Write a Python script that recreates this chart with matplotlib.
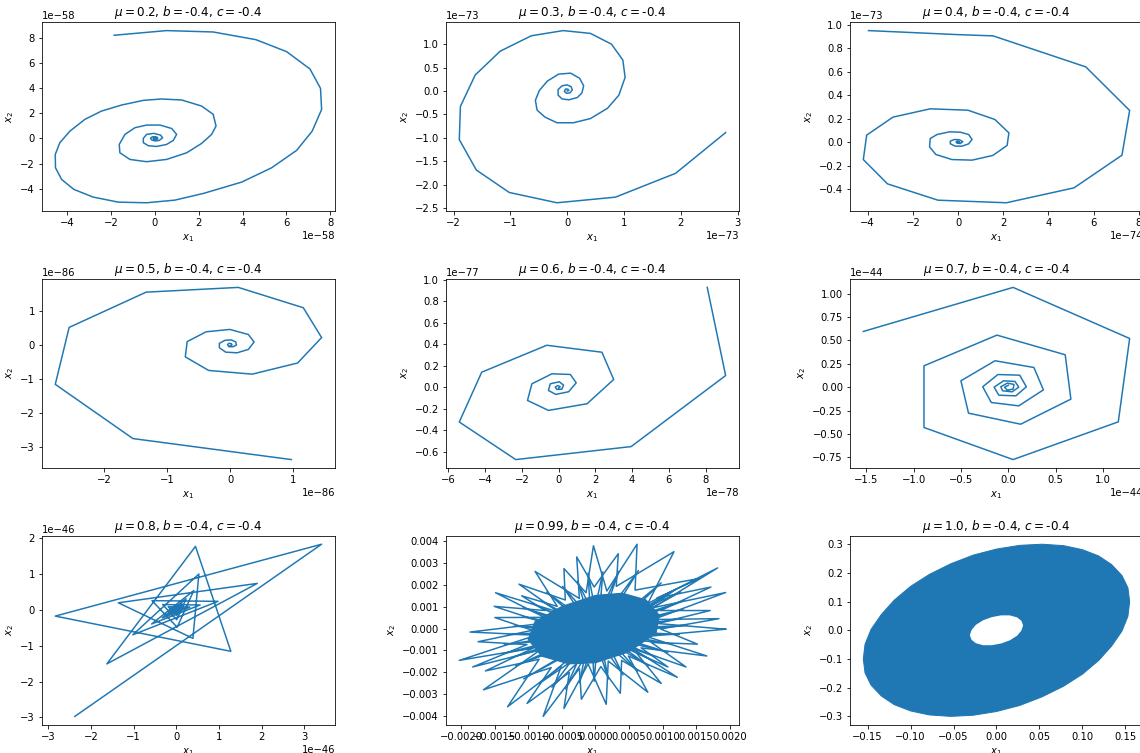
import numpy as np
import matplotlib
matplotlib.use('Agg')
import matplotlib.pyplot as plt


# parameters of every panel
mus = [0.2, 0.3, 0.4, 0.5, 0.6, 0.7, 0.8, 0.99, 1.0]
b = -0.4
c = -0.4

# mu = 0.2  (units 1e-58)
x_02 = [-1.86, 0.53, 2.66, 4.61, 6.01, 7.08, 7.56, 7.61, 7.18, 6.47, 5.33, 3.96, 2.21, 0.91,
        -0.38, -1.67, -2.82, -3.70, -4.26, -4.54, -4.55, -4.34, -3.88, -3.20, -2.44, -1.52,
        -0.53, 0.30, 1.22, 2.13, 2.66, 2.79, 2.59, 2.13, 1.45, 0.53, -0.38, -1.14, -1.60,
        -1.63, -1.37, -0.91, -0.38, 0.23, 0.76, 0.99, 0.84, 0.53, 0.08, -0.30, -0.53, -0.53,
        -0.38, -0.05, 0.26, 0.35, 0.20, 0.00, -0.15, -0.20, -0.12, 0.02, 0.12, 0.13, 0.05,
        -0.05, -0.08, -0.04, 0.03, 0.05, 0.02, -0.02, 0.00]
y_02 = [8.19, 8.56, 8.45, 7.84, 6.89, 5.51, 3.97, 2.30, 0.58, -0.95, -2.33, -3.47, -4.37, -4.90,
        -5.11, -5.06, -4.66, -4.05, -3.26, -2.33, -1.27, -0.34, 0.58, 1.51, 2.17, 2.65, 3.02,
        3.13, 3.05, 2.57, 1.91, 0.98, 0.32, -0.40, -1.14, -1.67, -1.85, -1.67, -1.14, -0.48,
        0.32, 0.85, 1.06, 1.06, 0.79, 0.32, -0.16, -0.48, -0.64, -0.58, -0.34, 0.00, 0.32,
        0.40, 0.26, 0.05, -0.16, -0.20, -0.12, 0.02, 0.12, 0.14, 0.07, -0.03, -0.08, -0.07,
        0.00, 0.05, 0.05, 0.00, -0.03, -0.02, 0.00]

# mu = 0.3  (units 1e-73)
x_03 = [2.79, 1.91, 0.85, -0.18, -1.02, -1.60, -1.90, -1.88, -1.62, -1.18, -0.63, -0.07, 0.41,
        0.78, 0.98, 1.02, 0.91, 0.71, 0.41, 0.11, -0.18, -0.39, -0.53, -0.56, -0.49, -0.35,
        -0.15, 0.06, 0.22, 0.29, 0.26, 0.18, 0.03, -0.09, -0.16, -0.16, -0.09, 0.00, 0.07,
        0.09, 0.05, -0.01, -0.05, -0.03, 0.01, 0.03, 0.00]
y_03 = [-0.89, -1.76, -2.27, -2.39, -2.17, -1.69, -1.04, -0.33, 0.34, 0.85, 1.18, 1.29, 1.23,
        1.00, 0.66, 0.29, -0.09, -0.37, -0.59, -0.68, -0.68, -0.56, -0.41, -0.20, 0.01, 0.21,
        0.36, 0.38, 0.27, 0.11, -0.04, -0.14, -0.19, -0.17, -0.09, 0.03, 0.11, 0.13, 0.09,
        0.02, -0.04, -0.05, -0.01, 0.04, 0.04, 0.01, 0.00]

# mu = 0.4  (x in 1e-74, y in 1e-73)
x_04 = [-3.96, -0.04, 1.55, 5.65, 7.59, 7.25, 5.13, 2.14, -0.89, -3.12, -4.19, -4.04, -2.88,
        -1.23, 0.44, 1.63, 2.25, 2.17, 1.54, 0.62, -0.27, -0.98, -1.26, -1.23, -0.93, -0.38,
        0.10, 0.47, 0.62, 0.47, 0.18, -0.12, -0.34, -0.34, -0.16, 0.07, 0.21, 0.10, -0.04,
        -0.09, 0.00, 0.07, 0.00]
y_04 = [0.950, 0.916, 0.905, 0.641, 0.270, -0.111, -0.389, -0.516, -0.494, -0.355, -0.148,
        0.060, 0.213, 0.284, 0.272, 0.193, 0.079, -0.028, -0.113, -0.153, -0.148, -0.105,
        -0.040, 0.031, 0.065, 0.088, 0.085, 0.065, 0.023, -0.014, -0.034, -0.034, -0.014,
        0.009, 0.023, 0.020, 0.003, -0.011, -0.009, 0.003, 0.009, 0.000, 0.000]

# mu = 0.5  (units 1e-86)
x_05 = [0.97, -1.54, -2.77, -2.55, -1.33, 0.13, 1.16, 1.45, 1.07, 0.35, -0.34, -0.71, -0.68,
        -0.38, -0.005, 0.29, 0.38, 0.29, 0.11, -0.07, -0.17, -0.17, -0.08, 0.02, 0.09, 0.10,
        0.05, -0.02, -0.04, -0.02, 0.02, 0.03, 0.00]
y_05 = [-3.38, -2.76, -1.16, 0.52, 1.56, 1.70, 1.10, 0.22, -0.53, -0.86, -0.75, -0.35, 0.10,
        0.39, 0.46, 0.31, 0.09, -0.13, -0.23, -0.21, -0.08, 0.05, 0.14, 0.15, 0.09, 0.00,
        -0.05, -0.05, 0.01, 0.05, 0.04, 0.00, -0.02]

# mu = 0.6  (x in 1e-78, y in 1e-77)
x_06 = [8.09, 9.09, 3.95, -2.33, -5.40, -4.18, -0.64, 2.36, 3.00, 1.55, -0.55, -1.69, -1.45,
        -0.36, 0.64, 0.96, 0.55, -0.15, -0.55, -0.45, 0.04, 0.27, 0.18, -0.09, -0.18, -0.04,
        0.09, 0.00]
y_06 = [0.929, 0.108, -0.554, -0.675, -0.325, 0.139, 0.390, 0.325, 0.071, -0.155, -0.217,
        -0.124, 0.031, 0.124, 0.118, 0.040, -0.043, -0.068, -0.031, 0.031, 0.050, 0.019,
        -0.019, -0.022, 0.000, 0.015, 0.003, -0.009]

# mu = 0.7  (units 1e-44)
x_07 = [-1.53, 0.05, 1.28, 1.16, 0.05, -0.89, -0.89, -0.12, 0.60, 0.66, 0.13, -0.42, -0.50,
        -0.14, 0.27, 0.37, 0.11, -0.18, -0.27, -0.11, 0.12, 0.19, 0.08, -0.10, -0.15, -0.05,
        0.07, 0.11, 0.04, -0.06, -0.08, -0.01, 0.06, 0.05, -0.01, -0.04, 0.00]
y_07 = [0.595, 1.066, 0.520, -0.371, -0.774, -0.431, 0.228, 0.556, 0.346, -0.128, -0.396,
        -0.278, 0.068, 0.282, 0.210, -0.029, -0.200, -0.164, 0.004, 0.135, 0.128, 0.004,
        -0.093, -0.086, 0.000, 0.068, 0.061, 0.000, -0.050, -0.039, 0.004, 0.043, 0.029,
        -0.021, -0.032, 0.000, 0.020]

# mu = 0.8  (units 1e-46)
x_08 = [-2.38, 3.41, -2.84, 1.28, 0.45, -1.63, 1.90, -1.36, 0.39, 0.53, -1.02, 0.98, -0.57,
        0.02, 0.41, -0.58, 0.56, -0.32, 0.01, 0.23, -0.33, 0.32, -0.19, 0.01, 0.13, -0.19,
        0.18, -0.11, 0.00, 0.08, -0.11, 0.10, -0.06, 0.00, 0.04, 0.00]
y_08 = [-2.97, 1.82, -0.18, -1.16, 1.76, -1.51, 0.73, 0.19, -0.80, 0.99, -0.70, 0.23, 0.25,
        -0.49, 0.53, -0.40, 0.13, 0.14, -0.28, 0.30, -0.23, 0.07, 0.08, -0.16, 0.17, -0.13,
        0.04, 0.05, -0.09, 0.10, -0.07, 0.02, 0.03, -0.05, 0.06, 0.00]

# mu = 0.99 : outer tips of the star, in angular order (units 1e-5)
tips_x_099 = [194, 184, 171, 194, 172, 182, 155, 117, 62, 34, -3, -28, -47, -90, -114, -110,
              -149, -151, -150, -187, -175, -203, -183, -164, -167, -131, -102, -78, -47, -21,
              16, 37, 78, 98, 122, 108, 135, 166, 152]
tips_y_099 = [-3, 45, 82, 164, 189, 276, 228, 350, 384, 341, 377, 326, 273, 260, 202, 149,
              163, 101, 50, -16, -60, -145, -175, -193, -279, -356, -341, -400, -364, -322,
              -345, -295, -290, -250, -222, -175, -175, -125, -71]
# inner ends of the spikes, one per tip (units 1e-5)
valley_x_099 = [97, 92, 86, 97, 86, 91, 78, 59, 31, 17, -2, -14, -24, -45, -57, -55, -75, -76,
                -75, -94, -88, -102, -92, -82, -84, -66, -51, -39, -24, -11, 8, 19, 39, 49, 61,
                54, 68, 83, 76]
valley_y_099 = [-2, 23, 41, 82, 95, 138, 114, 175, 192, 171, 189, 163, 137, 130, 101, 75, 82,
                51, 25, -8, -30, -73, -88, -97, -140, -178, -171, -200, -182, -161, -173, -148,
                -145, -125, -111, -88, -88, -63, -36]
# inner ring of points crossing the centre (units 1e-5)
inner_x_099 = [136, 128, 131, 132, 127, 121, 98, 64, 35, 11, -11, -27, -49, -73, -81, -93,
               -108, -108, -121, -130, -136, -139, -125, -119, -107, -84, -65, -45, -24, -2,
               19, 41, 63, 79, 83, 87, 108, 114, 125]
inner_y_099 = [15, 46, 89, 127, 167, 181, 208, 264, 261, 258, 253, 216, 192, 166, 126, 112,
               95, 54, 12, -27, -74, -115, -132, -170, -229, -251, -267, -275, -247, -240,
               -230, -211, -194, -170, -143, -126, -108, -71, -27]
# dense core of the orbit and its small hole (units 1e-5)
core_x_099 = [95, 75, 40, 0, -50, -90, -100, -80, -40, 0, 50, 90]
core_y_099 = [60, 130, 160, 150, 100, 30, -50, -125, -160, -155, -105, -20]
hole_x_099 = [6, 3, -2, -6, -3, 2]
hole_y_099 = [3, 7, 6, -3, -7, -6]

# mu = 1.0 : outer edge and inner hole of the filled ring
ring_x_10 = [0.155, 0.153, 0.146, 0.134, 0.119, 0.100, 0.078, 0.053, 0.027, 0.000, -0.027,
             -0.053, -0.078, -0.100, -0.119, -0.134, -0.146, -0.153,
             -0.155, -0.153, -0.146, -0.134, -0.119, -0.100, -0.078, -0.053, -0.027, 0.000,
             0.027, 0.053, 0.078, 0.100, 0.119, 0.134, 0.146, 0.153]
ring_y_10 = [0.100, 0.148, 0.191, 0.229, 0.259, 0.281, 0.295, 0.300, 0.296, 0.283, 0.262,
             0.232, 0.195, 0.153, 0.105, 0.055, 0.003, -0.049,
             -0.100, -0.148, -0.191, -0.229, -0.259, -0.281, -0.295, -0.300, -0.296, -0.283,
             -0.262, -0.232, -0.195, -0.153, -0.105, -0.055, -0.003, 0.049]
hole_x_10 = [0.031, 0.029, 0.024, 0.0155, 0.0054, -0.0054, -0.0155, -0.024, -0.029,
             -0.031, -0.029, -0.024, -0.0155, -0.0054, 0.0054, 0.0155, 0.024, 0.029]
hole_y_10 = [0.017, 0.033, 0.045, 0.052, 0.052, 0.046, 0.035, 0.019, 0.001,
             -0.017, -0.033, -0.045, -0.052, -0.052, -0.046, -0.035, -0.019, -0.001]

scales = [(1e-58, 1e-58), (1e-73, 1e-73), (1e-74, 1e-73), (1e-86, 1e-86),
          (1e-78, 1e-77), (1e-44, 1e-44), (1e-46, 1e-46)]
curves = [(x_02, y_02), (x_03, y_03), (x_04, y_04), (x_05, y_05),
          (x_06, y_06), (x_07, y_07), (x_08, y_08)]


fig, axes = plt.subplots(3, 3, figsize=(1140 / 72, 753 / 72), dpi=72)
fig.subplots_adjust(left=0.0368, right=1.0026, top=0.9708, bottom=0.0372,
                    wspace=0.379, hspace=0.356)
axes = axes.ravel()

for i, (xs, ys) in enumerate(curves):
    sx, sy = scales[i]
    axes[i].plot(np.array(xs) * sx, np.array(ys) * sy)

# mu = 0.99
ax = axes[7]
n_tips = len(tips_x_099)
# chords of the inner ring, jumping nearly across the centre each step
order = [(k * 20) % n_tips for k in range(n_tips + 1)]
ax.plot(np.array(inner_x_099)[order] * 1e-5, np.array(inner_y_099)[order] * 1e-5, color='C0')
ax.fill(np.array(core_x_099) * 1e-5, np.array(core_y_099) * 1e-5, color='C0', lw=1.5)
ax.fill(np.array(hole_x_099) * 1e-5, np.array(hole_y_099) * 1e-5, color='white', lw=0)
# spikes: each tip joined to the inner ends beside it, two interleaved passes
zig_x, zig_y = [], []
for k in range(2 * n_tips + 1):
    j = k % n_tips
    if k % 2 == 0:
        zig_x.append(tips_x_099[j])
        zig_y.append(tips_y_099[j])
    else:
        zig_x.append(valley_x_099[j])
        zig_y.append(valley_y_099[j])
ax.plot(np.array(zig_x) * 1e-5, np.array(zig_y) * 1e-5, color='C0')

# mu = 1.0: filled ring
ax = axes[8]
ax.fill(ring_x_10, ring_y_10, color='C0', lw=1)
ax.fill(hole_x_10, hole_y_10, color='white', lw=0)

for ax, mu in zip(axes, mus):
    ax.set_title(rf'$\mu={mu}$, $b=${b}, $c=${c}')
    ax.set_xlabel('$x_1$')
    ax.set_ylabel('$x_2$')

fig.savefig('out.png', dpi=72)
